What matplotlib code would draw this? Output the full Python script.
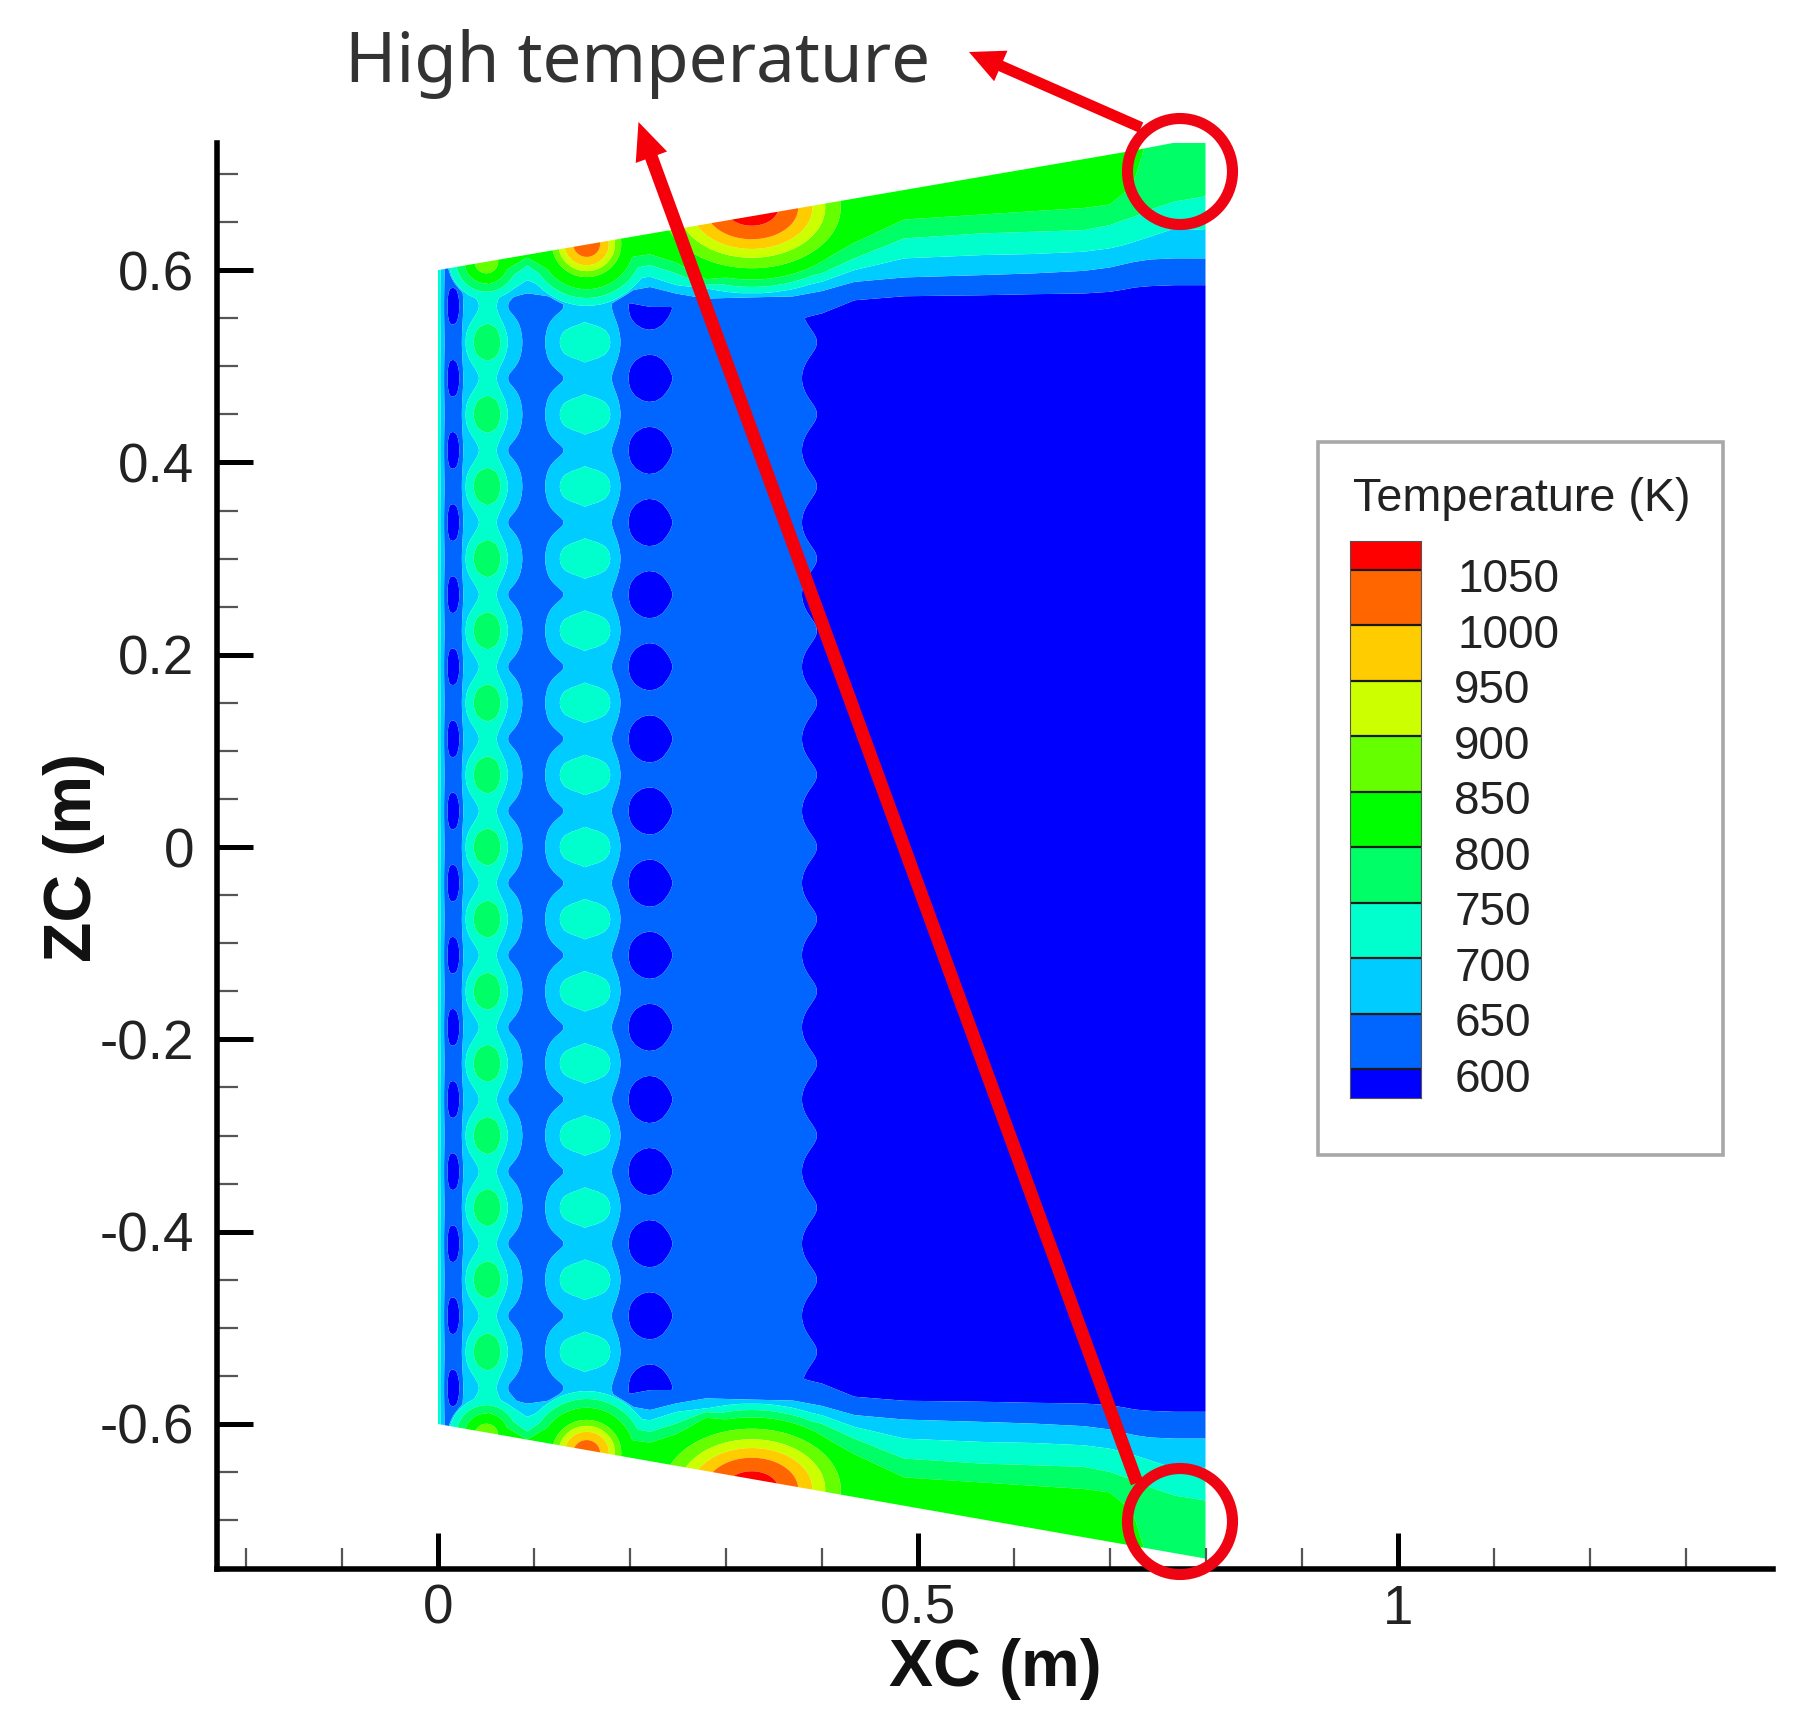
import numpy as np
import matplotlib
matplotlib.use("Agg")
import matplotlib.pyplot as plt
from matplotlib.patches import Polygon, Ellipse, Rectangle

# ---------- values ----------
levels = [600, 650, 700, 750, 800, 850, 900, 950, 1000, 1050]
band_colors = ['#0000FF', '#0066FF', '#00CCFF', '#00FFCC', '#00FF66', '#00FF00',
               '#66FF00', '#CCFF00', '#FFCC00', '#FF6600', '#FF0000']
legend_labels = ['600', '650', '700', '750', '800', '850', '900', '950', '1000', '1050']

# outline of the plate
outline_x = [0.0, 0.72, 0.77, 0.80, 0.80, 0.0]
outline_z = [0.60, 0.7235, 0.733, 0.734, -0.74, -0.60]

# chordwise temperature on the row through the hot cells
crest_x = [0, .0026, .0068, .009, .012, .02, .0252, .0286, .0373, .041, .046, .0513, .0565, .0615, .0651,
           .0727, .0877, .10, .112, .127, .132, .14, .1529, .166, .174, .1797, .190, .1988, .206, .213,
           .22, .227, .234, .2395, .2439, .25, .30, .395, .45, .80]
crest_T = [740, 700, 650, 625, 612, 615, 650, 700, 750, 772, 785, 790, 785, 772, 750,
           700, 650, 632, 650, 700, 715, 724, 727, 724, 715, 700, 650, 630, 617, 611,
           609, 610, 615, 625, 632, 625, 612, 600, 585, 570]
# chordwise temperature on the row midway between the hot cells
trough_x = [0, .0024, .0065, .0096, .012, .016, .02, .0227, .026, .0425, .052, .0616, .0727, .10, .1311,
            .153, .1814, .1988, .201, .206, .213, .22, .227, .234, .2395, .2439, .30, .3794, .45, .80]
trough_T = [735, 700, 650, 600, 590, 585, 590, 600, 650, 700, 715, 700, 650, 625, 650,
            682, 650, 600, 592, 583, 577, 575, 577, 583, 592, 600, 612, 600, 585, 570]
row_spacing = 0.075

# span position of each isotherm near the tip, by chord station
band_x = [.025, .030, .0535, .072, .093, .120, .157, .178, .194, .221, .248, .279, .327,
          .370, .400, .434, .486, .566, .620, .673, .700, .715, .726, .742, .768, .800]
z_800 = [.80, .5966, .5844, .6000, .6122, .5966, .5869, .5966, .6122, .6156, .6070, .5896, .5938,
         .5966, .6087, .6278, .6520, .6572, .6607, .6641, .6676, .6797, .6936, .7456, .76, .77]
z_750 = [.78, .5879, .5775, .5896, .6052, .5862, .5775, .5862, .6000, .6052, .5966, .5844, .5876,
         .5896, .5966, .6122, .6330, .6382, .6399, .6416, .6468, .6520, .6555, .6624, .6711, .6763]
z_700 = [.76, .5758, .5688, .5758, .5896, .5785, .5681, .5775, .5896, .5931, .5844, .5810, .5803,
         .5810, .5879, .6000, .6122, .6156, .6167, .6191, .6226, .6260, .6295, .6347, .6434, .6416]
z_650 = [.74, .5654, .5619, .5706, .5758, .5723, .5619, .5706, .5775, .5827, .5758, .5706, .5720,
         .5730, .5785, .5879, .5924, .5948, .5966, .5993, .6028, .6063, .6087, .6111, .6122, .6122]
z_600 = [.72, .5550, .5550, .5619, .5654, .5619, .5550, .5619, .5671, .5619, .5619, .5515, .5480,
         .5480, .5550, .5688, .5730, .5740, .5751, .5758, .5775, .5799, .5820, .5834, .5844, .5844]

# hot spots at the tip: centre, then temperature against distance
spot_a_centre = (0.0505, 0.609)
spot_a_r = [0, .0125, .023, .04]
spot_a_T = [880, 850, 800, 700]
spot_b_centre = (0.155, 0.627)
spot_b_r = [0, .0135, .022, .028, .034, .047, .065]
spot_b_T = [1040, 1000, 950, 900, 850, 800, 700]
spot_c_centre = (0.327, 0.665)
spot_c_r = [0, .019, .033, .043, .052, .063, .075, .09]
spot_c_T = [1090, 1050, 1000, 950, 900, 850, 800, 700]

x_major = [0, 0.5, 1]
x_major_labels = ['0', '0.5', '1']
z_major = [-0.6, -0.4, -0.2, 0, 0.2, 0.4, 0.6]
z_major_labels = ['-0.6', '-0.4', '-0.2', '0', '0.2', '0.4', '0.6']
x_minor = [-.2, -.1, .1, .2, .3, .4, .6, .7, .8, .9, 1.1, 1.2, 1.3]
z_minor = [-.7, -.65, -.55, -.5, -.45, -.35, -.3, -.25, -.15, -.1, -.05,
           .05, .1, .15, .25, .3, .35, .45, .5, .55, .65, .7]

# ---------- field assembled from the readings ----------
xg = np.linspace(0, 0.8, 1601)
zg = np.linspace(-0.75, 0.75, 3001)
X, Z = np.meshgrid(xg, zg)
span = np.where(Z >= 0, Z, -Z - 0.003)

crest = np.interp(xg, crest_x, crest_T)
trough = np.interp(xg, trough_x, trough_T)
wave = 0.5 * (1 + np.cos(2 * np.pi * zg / row_spacing))
interior = trough[None, :] + (crest - trough)[None, :] * wave[:, None]

band = np.zeros_like(X)
iso_z = [z_600, z_650, z_700, z_750, z_800]
iso_T = [540, 600, 650, 700, 750, 800, 845]
for j, xv in enumerate(xg):
    zs = [np.interp(xv, band_x, col) for col in iso_z]
    knots = [zs[0] - 0.04] + zs + [zs[-1] + 0.12]
    band[:, j] = np.interp(span[:, j], knots, iso_T)


def spot(centre, radii, temps, squeeze=1.0):
    r = np.hypot((X - centre[0]) * squeeze, span - centre[1])
    return np.interp(r, radii, temps, right=500)


field = np.maximum.reduce([interior, band,
                           spot(spot_a_centre, spot_a_r, spot_a_T),
                           spot(spot_b_centre, spot_b_r, spot_b_T, 0.95),
                           spot(spot_c_centre, spot_c_r, spot_c_T, 0.68)])

# light rounding of the kinks between read stations
kernel = np.ones(5) / 5
pad = np.pad(field, 2, mode='edge')
pad = np.apply_along_axis(lambda v: np.convolve(v, kernel, mode='same'), 1, pad)
pad = np.apply_along_axis(lambda v: np.convolve(v, kernel, mode='same'), 0, pad)
field = pad[2:-2, 2:-2]

# ---------- figure ----------
W, H = 1817, 1730
plt.rcParams['font.family'] = ['Liberation Sans', 'DejaVu Sans']
fig = plt.figure(figsize=(W / 100, H / 100), dpi=100, facecolor='white')


def fig_rect(l, t, r, b):
    return [l / W, 1 - b / H, (r - l) / W, (b - t) / H]


ax = fig.add_axes(fig_rect(216.5, 143, 1773, 1568.5))
ax.set_xlim(-0.2307, 1.3911)
ax.set_ylim(-0.7503, 0.7322)
ax.patch.set_alpha(0)
for s in ('top', 'right'):
    ax.spines[s].set_visible(False)
for s in ('left', 'bottom'):
    ax.spines[s].set_linewidth(4.0)
    ax.spines[s].set_color('black')

cs = ax.contourf(X, Z, field, levels=[400] + levels + [1300], colors=band_colors, antialiased=True)
clip = Polygon(np.column_stack([outline_x, outline_z]), closed=True, fc='none', ec='none',
               transform=ax.transData)
ax.add_patch(clip)
cs.set_clip_path(clip)

text_c = '#222222'
ax.set_xticks(x_major)
ax.set_xticklabels(x_major_labels)
ax.set_yticks(z_major)
ax.set_yticklabels(z_major_labels)
ax.set_xticks(x_minor, minor=True)
ax.set_yticks(z_minor, minor=True)
ax.tick_params(which='major', direction='in', length=26, width=3.6, color='black',
               labelsize=39.5, labelcolor=text_c)
ax.tick_params(axis='x', which='major', pad=11)
ax.tick_params(axis='y', which='major', pad=16)
ax.tick_params(which='minor', direction='in', length=15, width=1.6, color='#555555')

fig.text(995 / W, 1 - 1669 / H, 'XC (m)', fontsize=47.5, fontweight='bold', color='#111111',
         ha='center', va='center')
fig.text(74 / W, 1 - 857 / H, 'ZC (m)', fontsize=47.5, fontweight='bold', color='#111111',
         ha='center', va='center', rotation=90)

# overlay in picture pixels for the frame and the annotations
ov = fig.add_axes([0, 0, 1, 1], zorder=5)
ov.set_xlim(0, W)
ov.set_ylim(H, 0)
ov.axis('off')
ov.patch.set_alpha(0)

ov.add_patch(Rectangle((1318, 442), 405, 713, fc='white', ec='#A8A8A8', lw=2.6))
ov.text(1353, 499, 'Temperature (K)', fontsize=33.7, color=text_c, ha='left', va='center')

# legend bar, on its own temperature scale
lg = fig.add_axes(fig_rect(1350, 541, 1421, 1098), zorder=6)
lg.set_xlim(0, 1)
lg.set_ylim(574, 1076)
edges = [574] + levels + [1076]
for i, col in enumerate(band_colors):
    lg.bar(0.5, edges[i + 1] - edges[i], width=1, bottom=edges[i], color=col, linewidth=0)
lg.hlines(levels, 0, 1, color='#1a1a1a', lw=1.6)
lg.set_xticks([])
lg.set_yticks([])
for value, name in zip(levels, legend_labels):
    lg.annotate(name, xy=(1, value), xycoords=('axes fraction', 'data'),
                xytext=(24 if len(name) == 3 else 26, -7.5), textcoords='offset points',
                fontsize=33, color=text_c, ha='left', va='center', annotation_clip=False)
for s in lg.spines.values():
    s.set_linewidth(0.8)
    s.set_color('#555555')

# annotations
red = '#F5000A'
ov.text(345, 64, 'High temperature', fontsize=49.8, color='#333333', ha='left', va='center',
        family=['Noto Sans', 'DejaVu Sans'])
ov.annotate('', xy=(969, 52), xytext=(1141, 127.5),
            arrowprops=dict(facecolor=red, edgecolor='none', width=8, headwidth=24,
                            headlength=25, shrink=0))
ov.annotate('', xy=(638.5, 122), xytext=(1137, 1483),
            arrowprops=dict(facecolor=red, edgecolor='none', width=9.4, headwidth=24,
                            headlength=27, shrink=0))
for cy in (171.5, 1521.5):
    ov.add_patch(Ellipse((1180, cy), 105, 106, fc='none', ec='#EE0412', lw=8))

fig.savefig('out.png', dpi=100, facecolor='white')
